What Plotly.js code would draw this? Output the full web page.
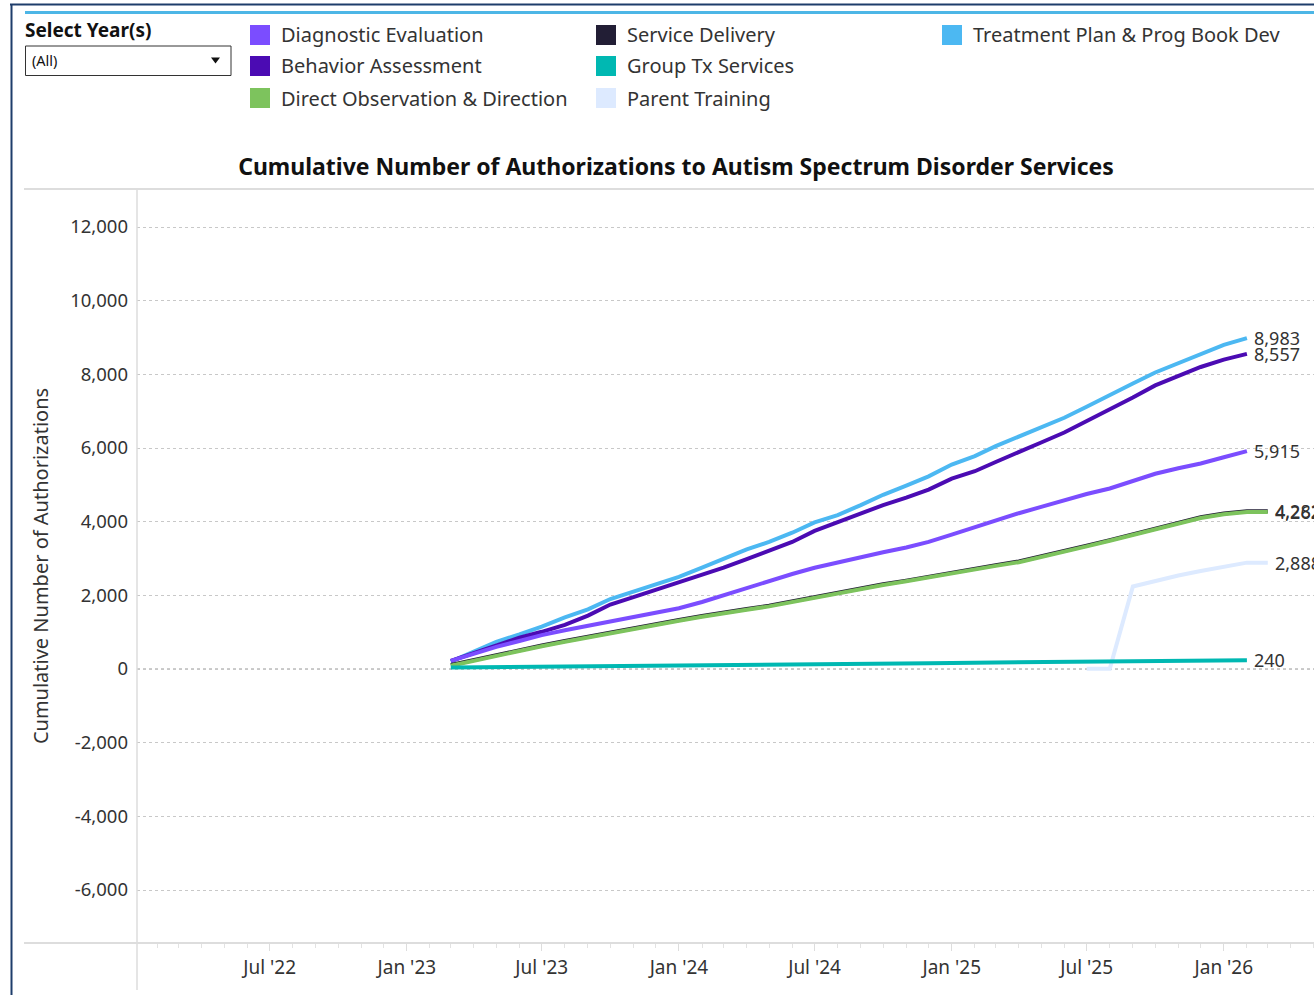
<!DOCTYPE html>
<html>
<head>
<meta charset="utf-8">
<script src="https://cdn.plot.ly/plotly-3.0.1.min.js"></script>
<style>
  html, body { margin: 0; padding: 0; background: #fff; }
  #chart { width: 1314px; height: 995px; }
</style>
</head>
<body>
<div id="chart"></div>
<script>
// ---------- DATA ----------
const months = [
  '2023-03-01','2023-04-01','2023-05-01','2023-06-01','2023-07-01','2023-08-01','2023-09-01','2023-10-01','2023-11-01','2023-12-01',
  '2024-01-01','2024-02-01','2024-03-01','2024-04-01','2024-05-01','2024-06-01','2024-07-01','2024-08-01','2024-09-01','2024-10-01',
  '2024-11-01','2024-12-01','2025-01-01','2025-02-01','2025-03-01','2025-04-01','2025-05-01','2025-06-01','2025-07-01','2025-08-01',
  '2025-09-01','2025-10-01','2025-11-01','2025-12-01','2026-01-01','2026-02-01','2026-03-01'
];

const treatmentPlan = [200, 470, 740, 940, 1150, 1400, 1620, 1900, 2100, 2300,
  2500, 2750, 3000, 3250, 3450, 3700, 3980, 4180, 4450, 4730,
  4980, 5230, 5550, 5780, 6050, 6300, 6550, 6820, 7120, 7450,
  7750, 8050, 8300, 8550, 8800, 8983];

const behaviorAssessment = [220, 430, 650, 850, 1010, 1200, 1450, 1750, 1950, 2150,
  2350, 2550, 2750, 2980, 3220, 3450, 3750, 3980, 4200, 4450,
  4650, 4870, 5170, 5370, 5620, 5900, 6150, 6420, 6720, 7050,
  7370, 7700, 7950, 8200, 8400, 8557];

const diagnosticEvaluation = [220, 420, 600, 760, 920, 1050, 1170, 1290, 1420, 1530,
  1650, 1820, 2000, 2200, 2400, 2580, 2750, 2900, 3050, 3170,
  3300, 3450, 3650, 3850, 4050, 4230, 4400, 4580, 4750, 4900,
  5100, 5300, 5450, 5580, 5750, 5915];

const serviceDelivery = [110, 250, 390, 510, 640, 760, 880, 1000, 1110, 1220,
  1330, 1440, 1540, 1630, 1720, 1840, 1950, 2070, 2190, 2300,
  2400, 2510, 2620, 2720, 2820, 2920, 3070, 3220, 3350, 3500,
  3660, 3820, 3970, 4120, 4220, 4282, 4282];

const directObservation = [90, 230, 370, 490, 620, 740, 860, 980, 1090, 1200,
  1310, 1420, 1520, 1610, 1700, 1820, 1930, 2050, 2170, 2280,
  2380, 2490, 2600, 2700, 2800, 2900, 3050, 3200, 3330, 3480,
  3640, 3800, 3950, 4100, 4200, 4262, 4262];

const groupTx = [40, 47, 53, 60, 66, 72, 78, 84, 90, 96,
  101, 107, 113, 118, 124, 129, 134, 139, 144, 149,
  154, 159, 164, 169, 174, 179, 184, 189, 194, 199,
  205, 211, 218, 225, 232, 240];

const parentTrainingMonths = ['2025-07-01','2025-08-01','2025-09-01','2025-10-01','2025-11-01','2025-12-01','2026-01-01','2026-02-01','2026-03-01'];
const parentTraining = [4, 9, 2240, 2400, 2540, 2660, 2780, 2888, 2888];

const xTickVals = ['2022-07-01','2023-01-01','2023-07-01','2024-01-01','2024-07-01','2025-01-01','2025-07-01','2026-01-01'];
const xTickText = ["Jul '22","Jan '23","Jul '23","Jan '24","Jul '24","Jan '25","Jul '25","Jan '26"];
const yTickVals = [-6000, -4000, -2000, 0, 2000, 4000, 6000, 8000, 10000, 12000];
const yTickText = ['-6,000','-4,000','-2,000','0','2,000','4,000','6,000','8,000','10,000','12,000'];

const legendNames = ['Diagnostic Evaluation','Behavior Assessment','Direct Observation & Direction',
  'Service Delivery','Group Tx Services','Parent Training','Treatment Plan & Prog Book Dev'];

const colors = {
  'Diagnostic Evaluation': '#7B4DFF',
  'Behavior Assessment': '#4B0BB3',
  'Direct Observation & Direction': '#7DC35D',
  'Service Delivery': '#221E35',
  'Group Tx Services': '#00B8B2',
  'Parent Training': '#DDEAFF',
  'Treatment Plan & Prog Book Dev': '#4CB8F2'
};

// ---------- TRACES (bottom -> top) ----------
const seriesDefs = [
  {name: 'Treatment Plan & Prog Book Dev', x: months.slice(0, treatmentPlan.length), y: treatmentPlan},
  {name: 'Behavior Assessment', x: months.slice(0, behaviorAssessment.length), y: behaviorAssessment},
  {name: 'Diagnostic Evaluation', x: months.slice(0, diagnosticEvaluation.length), y: diagnosticEvaluation},
  {name: 'Parent Training', x: parentTrainingMonths, y: parentTraining},
  {name: 'Service Delivery', x: months.slice(0, serviceDelivery.length), y: serviceDelivery},
  {name: 'Direct Observation & Direction', x: months.slice(0, directObservation.length), y: directObservation},
  {name: 'Group Tx Services', x: months.slice(0, groupTx.length), y: groupTx}
];

const FONT = '"Noto Sans", "Open Sans", "DejaVu Sans", sans-serif';
const TXT = '#333333';

const traces = seriesDefs.map(s => ({
  type: 'scatter', mode: 'lines', name: s.name,
  x: s.x, y: s.y,
  line: {color: colors[s.name], width: 4, shape: 'linear'},
  hoverinfo: 'skip', showlegend: false
}));

// ---------- helpers: pixel -> paper ----------
const L = 137, R = 1314, T = 189, B = 943;
const px = x => (x - L) / (R - L);
const py = y => (B - y) / (B - T);

const annotations = [];
const shapes = [];

// end labels
seriesDefs.forEach(s => {
  const n = s.y.length;
  annotations.push({
    xref: 'x', yref: 'y', x: s.x[n - 1], y: s.y[n - 1],
    text: s.y[n - 1].toLocaleString('en-US'),
    showarrow: false, xanchor: 'left', yanchor: 'middle', xshift: 5,
    font: {family: FONT, size: 18, color: TXT}
  });
});

// zero line (dotted)
shapes.push({type: 'line', xref: 'paper', yref: 'y', x0: 0, x1: 1, y0: 0, y1: 0,
  line: {color: '#999999', width: 1, dash: 'dot'}, layer: 'below'});

// pane borders
shapes.push({type: 'line', xref: 'paper', yref: 'paper', x0: px(24), x1: 1, y0: py(189), y1: py(189),
  line: {color: '#dddddd', width: 2}});
shapes.push({type: 'line', xref: 'paper', yref: 'paper', x0: px(24), x1: 1, y0: py(943), y1: py(943),
  line: {color: '#dddddd', width: 2}});
shapes.push({type: 'line', xref: 'paper', yref: 'paper', x0: px(137), x1: px(137), y0: py(189), y1: py(990),
  line: {color: '#dddddd', width: 1.5}});

// dashboard frame
shapes.push({type: 'line', xref: 'paper', yref: 'paper', x0: px(10), x1: px(1314), y0: py(4.5), y1: py(4.5),
  line: {color: '#1E3D6B', width: 2}});
shapes.push({type: 'line', xref: 'paper', yref: 'paper', x0: px(11.5), x1: px(11.5), y0: py(4), y1: py(995),
  line: {color: '#1E3D6B', width: 2}});
shapes.push({type: 'line', xref: 'paper', yref: 'paper', x0: px(25), x1: px(1314), y0: py(12.5), y1: py(12.5),
  line: {color: '#4DB6E6', width: 3}});

// select box
shapes.push({type: 'rect', xref: 'paper', yref: 'paper', x0: px(25.5), x1: px(231), y0: py(46), y1: py(75.5),
  line: {color: '#333333', width: 1}, fillcolor: '#ffffff'});
shapes.push({type: 'path', xref: 'paper', yref: 'paper',
  path: `M ${px(211)} ${py(57.5)} L ${px(220)} ${py(57.5)} L ${px(215.5)} ${py(63.5)} Z`,
  fillcolor: '#111111', line: {width: 0}});
annotations.push({xref: 'paper', yref: 'paper', x: px(23), y: py(30), xanchor: 'left', yanchor: 'middle',
  text: 'Select Year(s)', showarrow: false, font: {family: FONT, size: 19, color: '#111', weight: 700}});
annotations.push({xref: 'paper', yref: 'paper', x: px(30), y: py(60), xanchor: 'left', yanchor: 'middle',
  text: '(All)', showarrow: false, font: {family: FONT, size: 14.5, color: '#111'}});

// custom legend
const legendPos = [
  [250, 35], [250, 66], [250, 98],
  [596, 35], [596, 66], [596, 98],
  [942, 35]
];
legendNames.forEach((nm, i) => {
  const [lx, ly] = legendPos[i];
  shapes.push({type: 'rect', xref: 'paper', yref: 'paper',
    x0: px(lx), x1: px(lx + 20), y0: py(ly - 10), y1: py(ly + 10),
    fillcolor: colors[nm], line: {width: 0}});
  annotations.push({xref: 'paper', yref: 'paper', x: px(lx + 29), y: py(ly), xanchor: 'left', yanchor: 'middle',
    text: nm.replace('&', '&amp;'), showarrow: false, font: {family: FONT, size: 20, color: TXT}});
});

const layout = {
  width: 1314, height: 995,
  margin: {l: L, r: 1314 - R, t: T, b: 995 - B, pad: 0},
  paper_bgcolor: '#ffffff', plot_bgcolor: '#ffffff',
  font: {family: FONT, color: TXT},
  title: {
    text: 'Cumulative Number of Authorizations to Autism Spectrum Disorder Services',
    x: 676 / 1314, xref: 'container', xanchor: 'center',
    y: 1 - 167 / 995, yref: 'container', yanchor: 'middle',
    font: {family: FONT, size: 23, color: '#111', weight: 700}
  },
  xaxis: {
    type: 'date', range: ['2022-01-04', '2026-05-02'],
    tickmode: 'array', tickvals: xTickVals, ticktext: xTickText,
    ticks: 'outside', ticklen: 7, tickcolor: '#dddddd', tickwidth: 1,
    minor: {tickmode: 'linear', tick0: '2022-01-01', dtick: 'M1', ticks: 'outside', ticklen: 4, tickcolor: '#e2e2e2', showgrid: false},
    showgrid: false, zeroline: false, showline: false,
    tickfont: {family: FONT, size: 19, color: TXT},
    ticklabelstandoff: 0,
    fixedrange: true
  },
  yaxis: {
    range: [-7439, 13032],
    tickmode: 'array', tickvals: yTickVals, ticktext: yTickText,
    ticks: '', showgrid: true, gridcolor: '#c8c8c8', gridwidth: 1, griddash: '3px,3px',
    zeroline: false, showline: false,
    tickfont: {family: FONT, size: 18.5, color: TXT},
    ticklabelstandoff: 8,
    title: {text: 'Cumulative Number of Authorizations', standoff: 16, font: {family: FONT, size: 20, color: TXT}},
    fixedrange: true
  },
  shapes: shapes,
  annotations: annotations,
  showlegend: false,
  hovermode: false
};

Plotly.newPlot('chart', traces, layout, {displayModeBar: false, staticPlot: true});
</script>
</body>
</html>
